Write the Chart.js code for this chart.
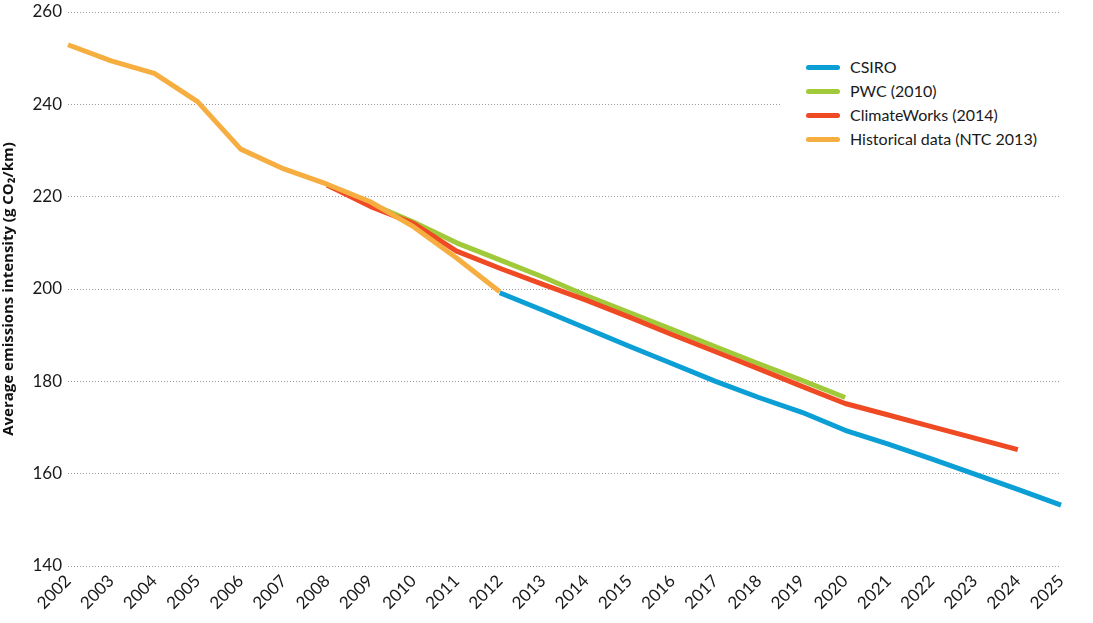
<!DOCTYPE html>
<html>
<head>
<meta charset="utf-8">
<script src="https://cdn.jsdelivr.net/npm/chart.js@4.4.1/dist/chart.umd.min.js"></script>
<style>
  html, body { margin: 0; padding: 0; background: #fff; }
  #wrap { position: relative; width: 1093px; height: 623px; }
  #legend { position: absolute; left: 781px; top: 48px; width: 279px; height: 112px; background: #fff;
            font-family: Lato, "Noto Sans", sans-serif; font-size: 16px; color: #1a1a1a; }
  .item { position: absolute; left: 25px; height: 24px; line-height: 24px; white-space: nowrap; }
  .swatch { display: inline-block; width: 34px; height: 5px; border-radius: 3px; vertical-align: middle; margin-right: 10px; position: relative; top: -1px; }
</style>
</head>
<body>
<div id="wrap">
  <canvas id="c" width="1093" height="623"></canvas>
  <div id="legend"></div>
</div>
<script>
const years = ["2002","2003","2004","2005","2006","2007","2008","2009","2010","2011","2012","2013","2014","2015","2016","2017","2018","2019","2020","2021","2022","2023","2024","2025"];
const csiro = [null,null,null,null,null,null,null,null,null,null,199.2,195.4,191.5,187.6,183.8,180.0,176.5,173.3,169.4,166.4,163.2,159.9,156.6,153.2];
const pwc = [null,null,null,null,null,null,222.5,218.5,214.5,210.0,206.3,202.6,198.6,194.9,191.2,187.5,183.8,180.2,176.5,null,null,null,null,null];
const climateWorks = [null,null,null,null,null,null,222.5,217.9,214.2,208.2,204.5,201.0,197.6,193.9,190.1,186.4,182.7,178.9,175.2,172.7,170.2,167.7,165.2,null];
const historical = [252.9,249.4,246.7,240.6,230.3,226.0,222.7,218.9,213.5,206.7,199.4,null,null,null,null,null,null,null,null,null,null,null,null,null];
const yTicks = [140,160,180,200,220,240,260];

const series = [
  {label: "CSIRO", data: csiro, color: "#0b9fd5"},
  {label: "PWC (2010)", data: pwc, color: "#a0ca3a"},
  {label: "ClimateWorks (2014)", data: climateWorks, color: "#ef4a24"},
  {label: "Historical data (NTC 2013)", data: historical, color: "#f6ae40"}
];

// legend (HTML text)
const lg = document.getElementById('legend');
series.forEach((s, i) => {
  const d = document.createElement('div');
  d.className = 'item';
  d.style.top = (7 + i * 24) + 'px';
  d.innerHTML = '<span class="swatch" style="background:' + s.color + '"></span>' + s.label;
  lg.appendChild(d);
});

// drawing order: historical on top
const drawOrder = [3, 2, 1, 0];
const datasets = drawOrder.map(i => ({
  label: series[i].label,
  data: series[i].data,
  borderColor: series[i].color,
  backgroundColor: series[i].color,
  borderWidth: 5,
  pointRadius: 0,
  tension: 0,
  fill: false,
  spanGaps: false,
  borderCapStyle: 'butt',
  borderJoinStyle: 'round'
}));

new Chart(document.getElementById('c'), {
  type: 'line',
  data: { labels: years, datasets: datasets },
  options: {
    responsive: false,
    animation: false,
    layout: { padding: { top: 12, right: 32, left: 0, bottom: 0 } },
    plugins: { legend: { display: false }, tooltip: { enabled: false } },
    scales: {
      x: {
        offset: false,
        grid: { display: false, drawTicks: false },
        border: { display: false },
        ticks: {
          autoSkip: false, maxRotation: 45, minRotation: 45, padding: 5,
          color: '#1a1a1a', font: { family: 'Lato', size: 17 }
        },
        afterFit: (s) => { s.height = 57; s.paddingLeft = 0; s.paddingRight = 0; }
      },
      y: {
        min: 140, max: 260,
        afterBuildTicks: (s) => { s.ticks = yTicks.map(v => ({ value: v })); },
        grid: { color: '#9a9a9a', lineWidth: 1, drawTicks: false },
        border: { display: false, dash: [1, 2] },
        ticks: { padding: 6, color: '#1a1a1a', font: { family: 'Lato', size: 17 } },
        title: {
          display: true, text: 'Average emissions intensity (g CO₂/km)',
          color: '#111', padding: { top: 0, bottom: 4 },
          font: { family: '"Liberation Sans Narrow", "Open Sans", sans-serif', size: 15, weight: 'bold' }
        },
        afterFit: (s) => { s.width = 68; s.paddingTop = 0; s.paddingBottom = 0; }
      }
    }
  }
});
</script>
</body>
</html>
